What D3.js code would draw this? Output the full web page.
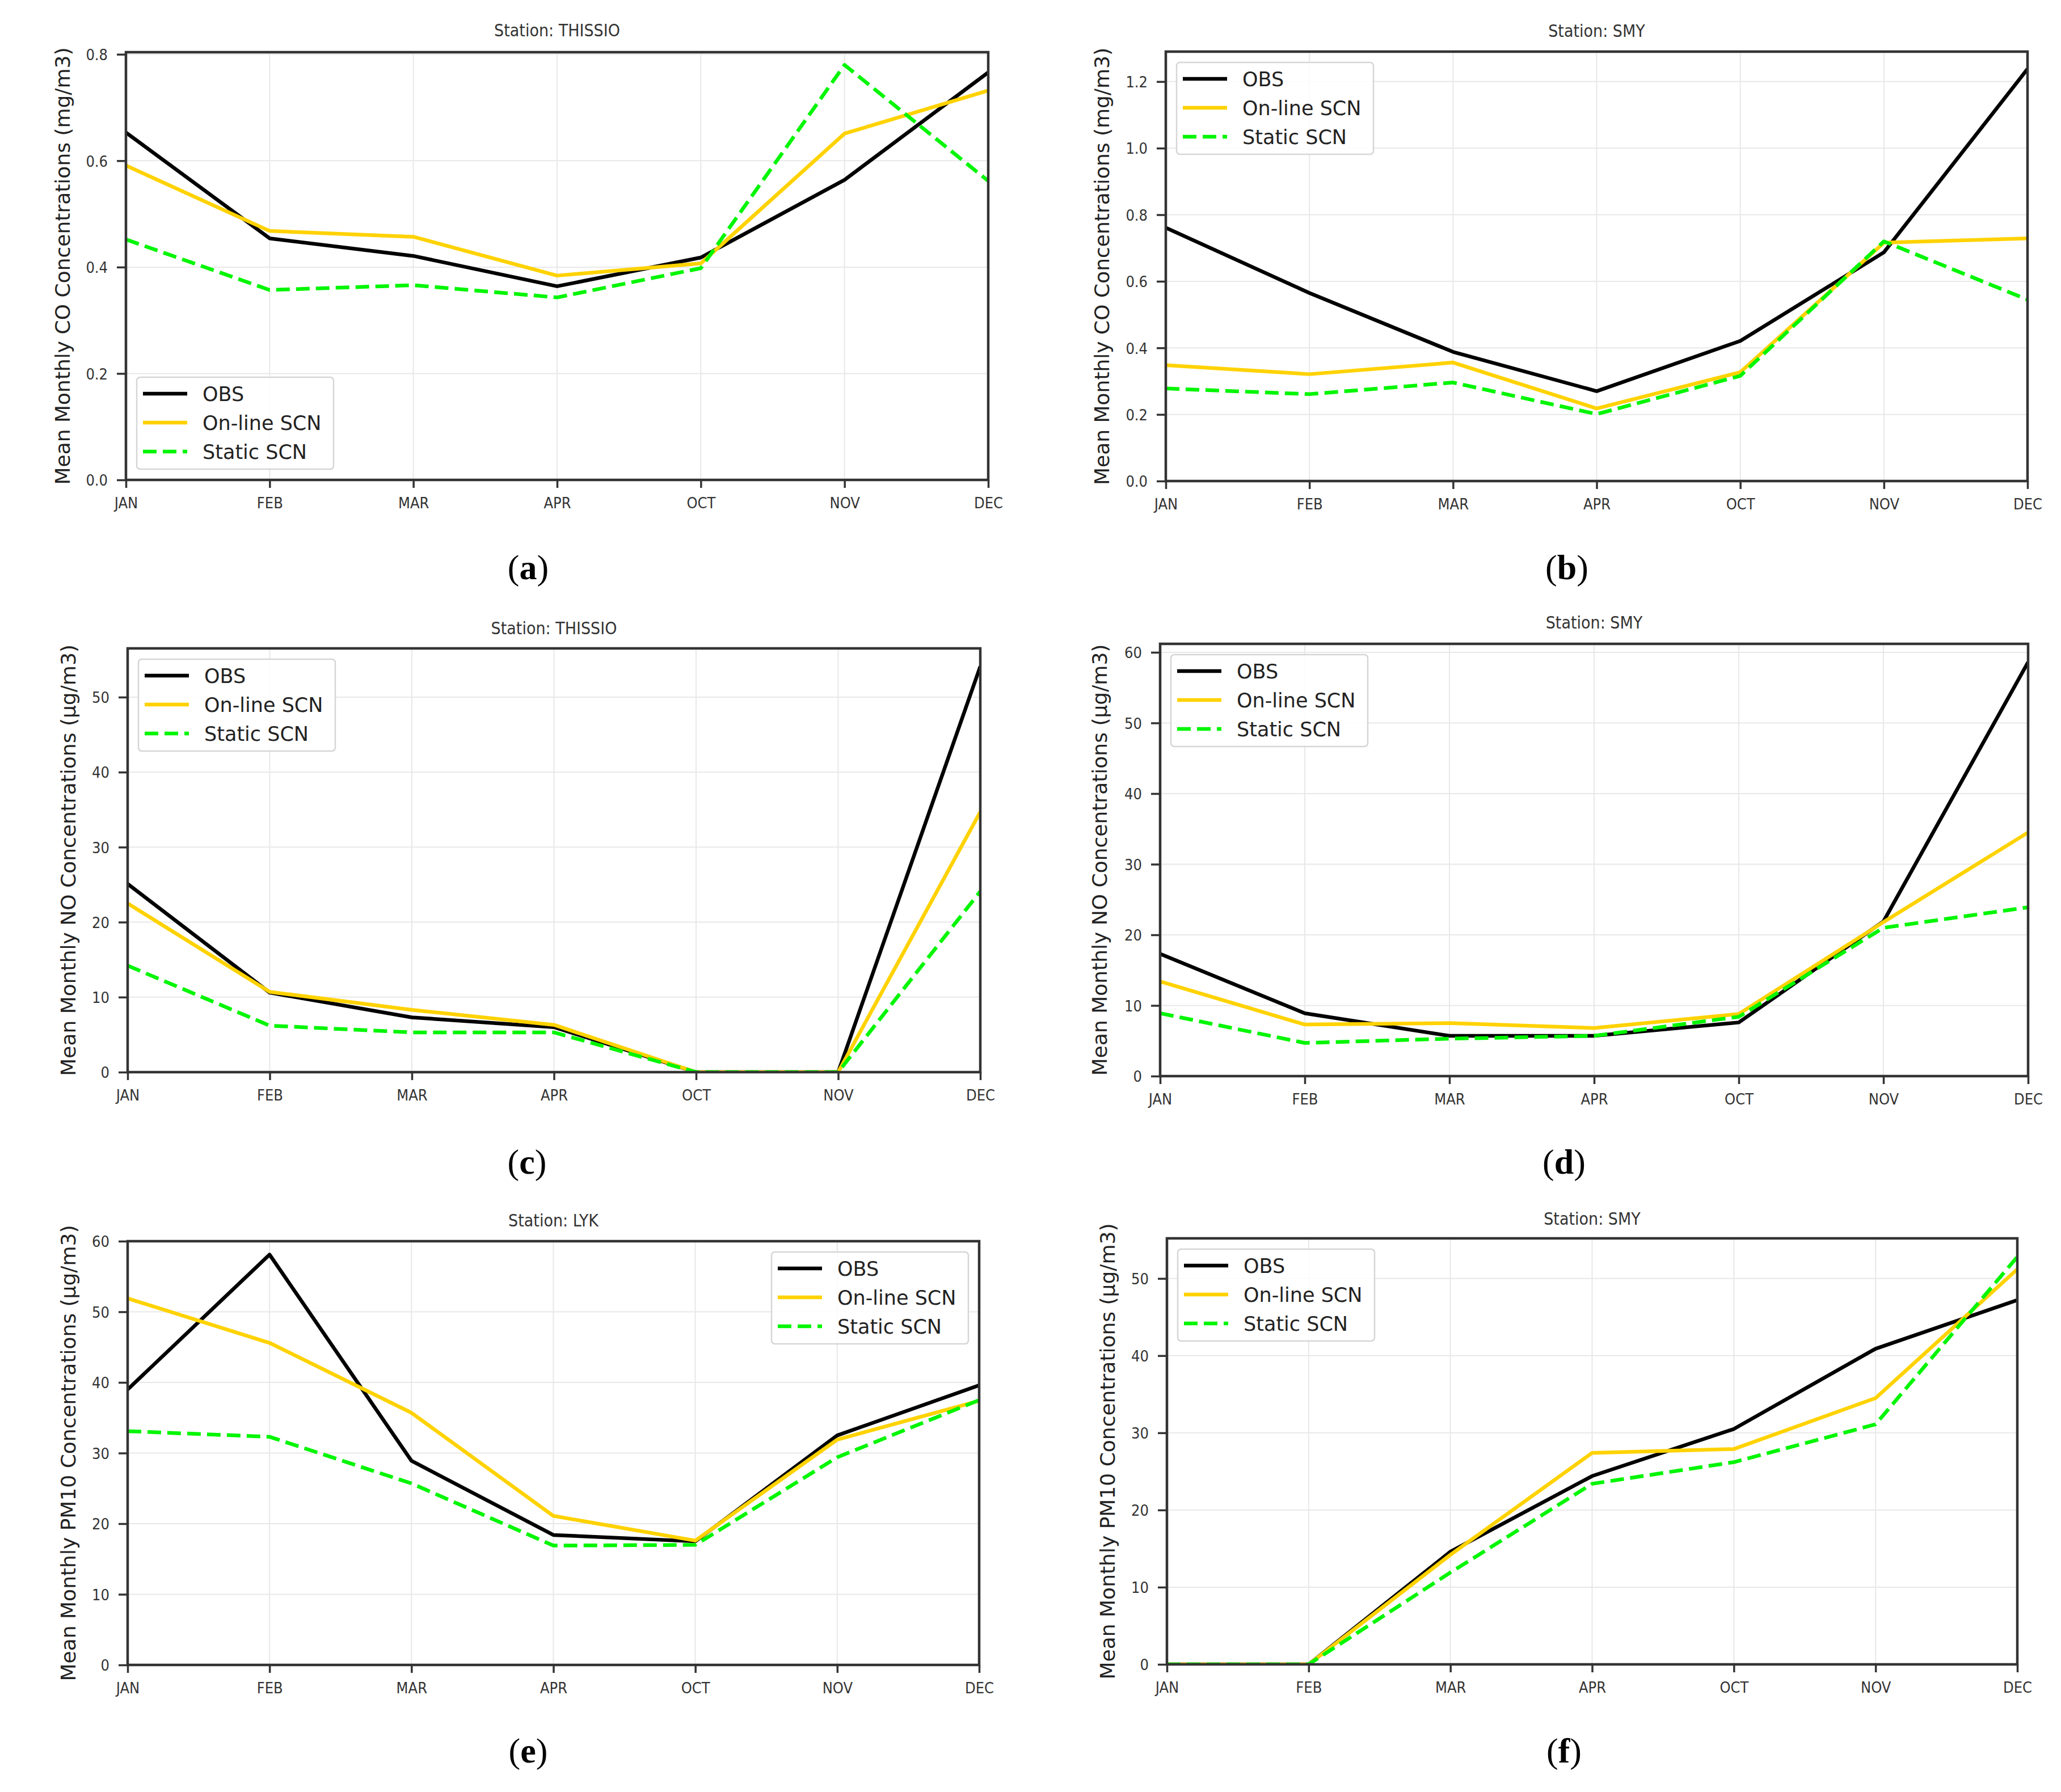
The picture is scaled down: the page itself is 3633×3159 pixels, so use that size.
<!DOCTYPE html>
<html>
<head>
<meta charset="utf-8">
<script src="https://cdn.jsdelivr.net/npm/d3@7"></script>
<style>
  body { margin: 0; background: #fff; }
  .tick text { font-family: "DejaVu Sans Condensed", "DejaVu Sans", sans-serif; font-stretch: condensed; }
</style>
</head>
<body>
<div class="chart_area"></div>
<script>
//<data>--------------------------------------//
var months = ["JAN", "FEB", "MAR", "APR", "OCT", "NOV", "DEC"];
var seriesNames = ["OBS", "On-line SCN", "Static SCN"];
var stations = ["THISSIO", "SMY", "THISSIO", "SMY", "LYK", "SMY"];
var yLabels = [
    "Mean Monthly CO Concentrations (mg/m3)",
    "Mean Monthly CO Concentrations (mg/m3)",
    "Mean Monthly NO Concentrations (\u00b5g/m3)",
    "Mean Monthly NO Concentrations (\u00b5g/m3)",
    "Mean Monthly PM10 Concentrations (\u00b5g/m3)",
    "Mean Monthly PM10 Concentrations (\u00b5g/m3)"
];
var panelLetters = ["a", "b", "c", "d", "e", "f"];

// (a) CO THISSIO
var coThissioObs = [0.653, 0.454, 0.421, 0.364, 0.418, 0.564, 0.766];
var coThissioOnline = [0.591, 0.468, 0.457, 0.384, 0.407, 0.651, 0.732];
var coThissioStatic = [0.452, 0.357, 0.366, 0.343, 0.398, 0.780, 0.562];
// (b) CO SMY
var coSmyObs = [0.761, 0.565, 0.388, 0.270, 0.421, 0.687, 1.238];
var coSmyOnline = [0.348, 0.321, 0.356, 0.218, 0.327, 0.716, 0.729];
var coSmyStatic = [0.278, 0.261, 0.296, 0.201, 0.316, 0.720, 0.545];
// (c) NO THISSIO
var noThissioObs = [25.1, 10.6, 7.3, 6.0, 0, 0, 54.1];
var noThissioOnline = [22.5, 10.7, 8.3, 6.3, 0, 0, 34.7];
var noThissioStatic = [14.2, 6.2, 5.3, 5.3, 0, 0, 24.1];
// (d) NO SMY
var noSmyObs = [17.3, 8.9, 5.7, 5.7, 7.6, 21.9, 58.6];
var noSmyOnline = [13.4, 7.3, 7.5, 6.8, 8.8, 21.8, 34.5];
var noSmyStatic = [8.9, 4.7, 5.3, 5.7, 8.4, 21.0, 23.9];
// (e) PM10 LYK
var pmLykObs = [39.0, 58.1, 28.9, 18.4, 17.5, 32.5, 39.6];
var pmLykOnline = [51.9, 45.6, 35.7, 21.1, 17.6, 31.9, 37.4];
var pmLykStatic = [33.1, 32.3, 25.7, 16.9, 17.0, 29.4, 37.5];
// (f) PM10 SMY
var pmSmyObs = [0, 0, 14.6, 24.4, 30.5, 40.9, 47.2];
var pmSmyOnline = [0, 0, 14.2, 27.4, 27.9, 34.5, 51.2];
var pmSmyStatic = [0, 0, 11.9, 23.4, 26.2, 31.1, 52.8];

// y axis limits and tick values
var yMaxes = [0.804, 1.29, 56.5, 61.2, 60, 55.2];
var yTicks = [
    [0, 0.2, 0.4, 0.6, 0.8],
    [0, 0.2, 0.4, 0.6, 0.8, 1.0, 1.2],
    [0, 10, 20, 30, 40, 50],
    [0, 10, 20, 30, 40, 50, 60],
    [0, 10, 20, 30, 40, 50, 60],
    [0, 10, 20, 30, 40, 50]
];
var yFormats = [".1f", ".1f", "d", "d", "d", "d"];

var panelSeries = [
    [coThissioObs, coThissioOnline, coThissioStatic],
    [coSmyObs, coSmyOnline, coSmyStatic],
    [noThissioObs, noThissioOnline, noThissioStatic],
    [noSmyObs, noSmyOnline, noSmyStatic],
    [pmLykObs, pmLykOnline, pmLykStatic],
    [pmSmyObs, pmSmyOnline, pmSmyStatic]
];

//<layout>------------------------------------//
var W = 3633, H = 3159;
// plot rectangles (left, top, right, bottom)
var boxes = [
    { l: 222, t: 92, r: 1742, b: 846, leg: "ll", yl: 110, tt: 53, lx: 931, ly: 1021 },
    { l: 2055, t: 91, r: 3574, b: 848, leg: "ul", yl: 1942, tt: 54, lx: 2762, ly: 1021 },
    { l: 225, t: 1143, r: 1728, b: 1890, leg: "ul", yl: 120, tt: 1107, lx: 929, ly: 2069 },
    { l: 2045, t: 1135, r: 3575, b: 1897, leg: "ul", yl: 1938, tt: 1097, lx: 2757, ly: 2069 },
    { l: 225, t: 2188, r: 1726, b: 2935, leg: "ur", yl: 120, tt: 2151, lx: 931, ly: 3107 },
    { l: 2057, t: 2183, r: 3556, b: 2934, leg: "ul", yl: 1952, tt: 2148, lx: 2757, ly: 3107 }
];
var colors = ["#000000", "#ffd200", "#00f500"];
var lineW = 6.5;

var svg = d3.select(".chart_area").append("svg")
    .attr("width", W).attr("height", H)
    .attr("viewBox", "0 0 " + W + " " + H);
svg.append("rect").attr("width", W).attr("height", H).attr("fill", "#fff");

//<drawPanels>--------------------------------//
boxes.forEach(function (bx, i) {
    var g = svg.append("g").attr("id", "panel_" + panelLetters[i]);

    var x = d3.scalePoint().domain(months).range([bx.l, bx.r]).padding(0);
    var y = d3.scaleLinear().domain([0, yMaxes[i]]).range([bx.b, bx.t]);

    // grid
    g.append("g").selectAll("line.gx").data(months).enter().append("line")
        .attr("x1", function (d) { return x(d); }).attr("x2", function (d) { return x(d); })
        .attr("y1", bx.t).attr("y2", bx.b)
        .attr("stroke", "#e8e8e8").attr("stroke-width", 2);
    g.append("g").selectAll("line.gy").data(yTicks[i]).enter().append("line")
        .attr("x1", bx.l).attr("x2", bx.r)
        .attr("y1", function (d) { return y(d); }).attr("y2", function (d) { return y(d); })
        .attr("stroke", "#e8e8e8").attr("stroke-width", 2);

    // lines, clipped to the axes (obs first, static last = on top)
    var clipId = "clip_" + i;
    g.append("clipPath").attr("id", clipId).append("rect")
        .attr("x", bx.l).attr("y", bx.t).attr("width", bx.r - bx.l).attr("height", bx.b - bx.t);
    var line = d3.line()
        .x(function (d, k) { return x(months[k]); })
        .y(function (d) { return y(d); });
    [0, 1, 2].forEach(function (s) {
        g.append("path")
            .datum(panelSeries[i][s])
            .attr("clip-path", "url(#" + clipId + ")")
            .attr("d", line)
            .attr("fill", "none")
            .attr("stroke", colors[s])
            .attr("stroke-width", lineW)
            .attr("stroke-linejoin", "round")
            .attr("stroke-dasharray", s == 2 ? "24,11" : null);
    });

    // axes
    var xAxis = g.append("g").attr("transform", "translate(0," + bx.b + ")")
        .call(d3.axisBottom(x).tickSize(14).tickSizeOuter(0).tickPadding(17));
    var yAxis = g.append("g").attr("transform", "translate(" + bx.l + ",0)")
        .call(d3.axisLeft(y).tickValues(yTicks[i]).tickFormat(d3.format(yFormats[i]))
            .tickSize(16).tickSizeOuter(0).tickPadding(16));
    [xAxis, yAxis].forEach(function (a) {
        a.select(".domain").remove();
        a.selectAll(".tick line").attr("stroke", "#333").attr("stroke-width", 3.5);
        a.selectAll(".tick text").attr("fill", "#333").style("font-size", "27px");
    });
    yAxis.selectAll(".tick text").attr("dy", "0.36em");

    // frame
    g.append("rect")
        .attr("x", bx.l).attr("y", bx.t).attr("width", bx.r - bx.l).attr("height", bx.b - bx.t)
        .attr("fill", "none").attr("stroke", "#333").attr("stroke-width", 4.5);

    // title
    g.append("text")
        .attr("x", (bx.l + bx.r) / 2).attr("y", bx.tt + 11)
        .text("Station: " + stations[i])
        .style("text-anchor", "middle")
        .style("font-family", "'DejaVu Sans Condensed', 'DejaVu Sans', sans-serif")
        .style("font-stretch", "condensed")
        .style("font-size", "30px")
        .attr("fill", "#333");

    // y label
    g.append("text")
        .attr("transform", "translate(" + bx.yl + "," + ((bx.t + bx.b) / 2) + ") rotate(-90)")
        .attr("dy", "0.35em")
        .text(yLabels[i])
        .style("text-anchor", "middle")
        .style("font-family", "'DejaVu Sans', sans-serif")
        .style("font-size", "36px")
        .attr("fill", "#222");

    //<legend>--------------------------------//
    var lw = 347, lh = 162, pad = 19;
    var lx0 = bx.leg == "ur" ? bx.r - pad - lw : bx.l + pad;
    var ly0 = bx.leg == "ll" ? bx.b - pad - lh : bx.t + pad;
    var leg = g.append("g").attr("transform", "translate(" + lx0 + "," + ly0 + ")");
    leg.append("rect").attr("width", lw).attr("height", lh).attr("rx", 6)
        .attr("fill", "#fff").attr("fill-opacity", 0.85)
        .attr("stroke", "#d6d6d6").attr("stroke-width", 2.5);
    seriesNames.forEach(function (n, s) {
        var cy = 29 + s * 51;
        leg.append("line").attr("x1", 11).attr("x2", 89).attr("y1", cy).attr("y2", cy)
            .attr("stroke", colors[s]).attr("stroke-width", lineW)
            .attr("stroke-dasharray", s == 2 ? "24,11" : null);
        leg.append("text").attr("x", 116).attr("y", cy).attr("dy", "0.36em")
            .text(n)
            .style("font-family", "'DejaVu Sans', sans-serif")
            .style("font-size", "35px")
            .attr("fill", "#222");
    });

    // panel letter
    var pl = svg.append("text")
        .attr("x", bx.lx).attr("y", bx.ly)
        .style("text-anchor", "middle")
        .style("font-family", "'Liberation Serif', 'Times New Roman', serif")
        .style("font-size", "62px")
        .attr("fill", "#000");
    pl.append("tspan").text("(");
    pl.append("tspan").style("font-weight", "bold").text(panelLetters[i]);
    pl.append("tspan").text(")");
});
</script>
</body>
</html>
